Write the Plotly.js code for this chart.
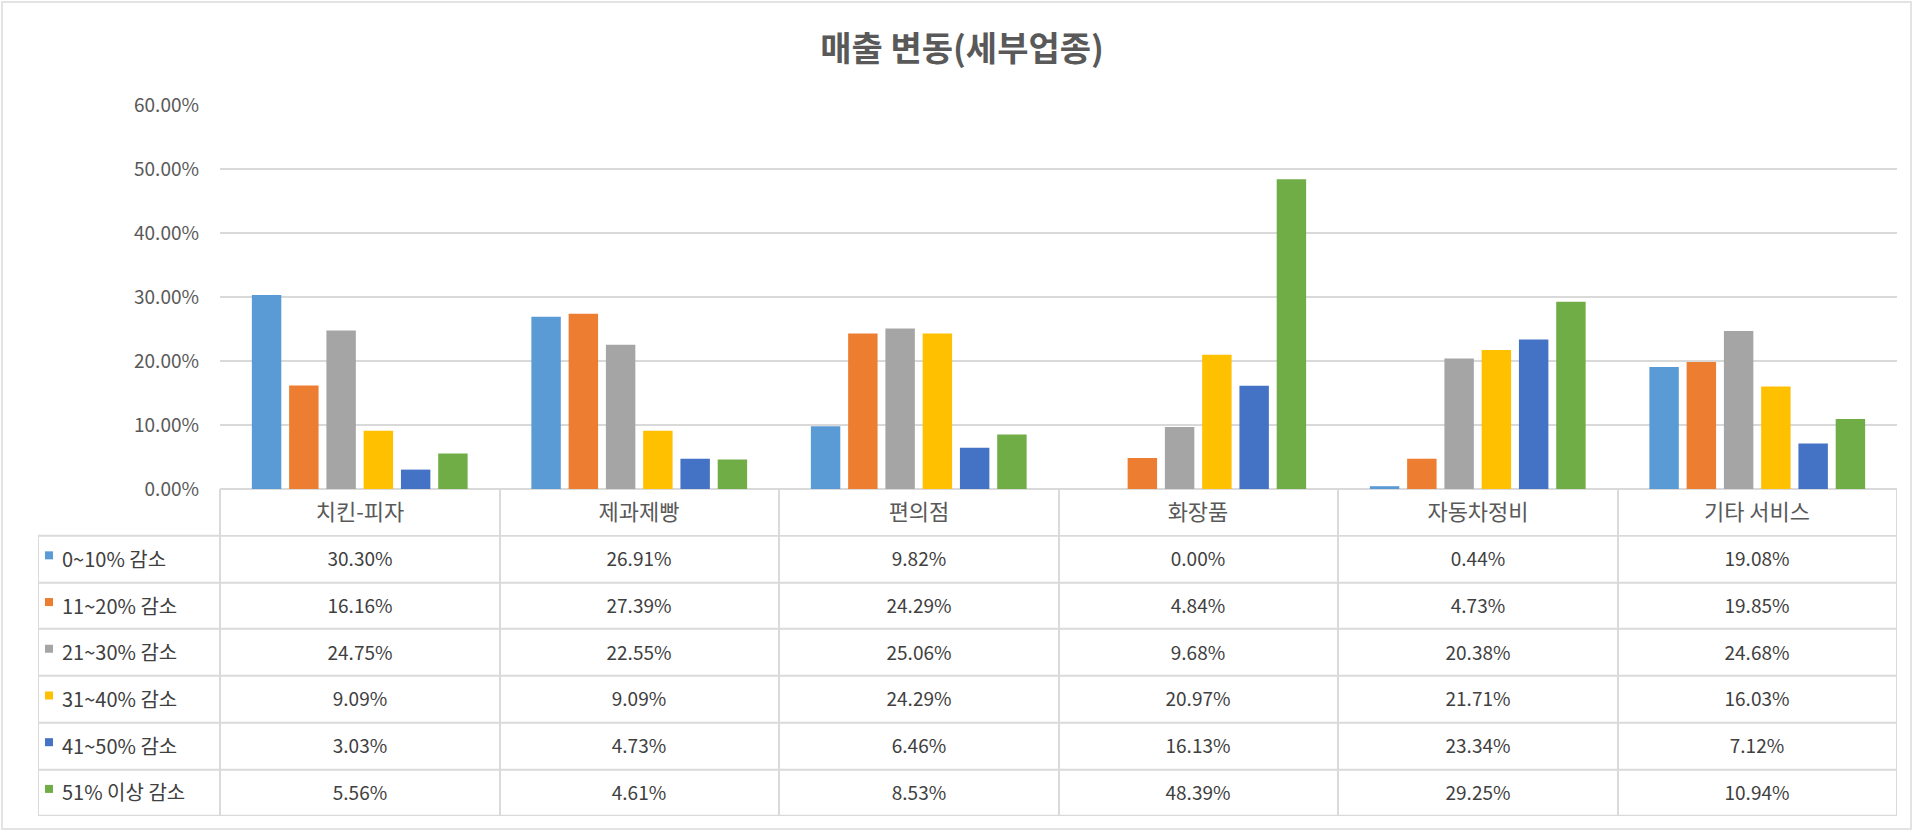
<!DOCTYPE html>
<html>
<head>
<meta charset="utf-8">
<script src="https://cdn.plot.ly/plotly-3.0.1.min.js"></script>
<style>
  html, body { margin: 0; padding: 0; background: #fff; }
  #chart { width: 1920px; height: 838px; }
</style>
</head>
<body>
<div id="chart"></div>
<script>
// 업종 (categories)
const categories = ['치킨-피자', '제과제빵', '편의점', '화장품', '자동차정비', '기타 서비스'];

// 감소 구간 (series)
const seriesNames = ['0~10% 감소', '11~20% 감소', '21~30% 감소', '31~40% 감소', '41~50% 감소', '51% 이상 감소'];
const seriesColors = ['#5B9BD5', '#ED7D31', '#A5A5A5', '#FFC000', '#4472C4', '#70AD47'];

// values in percent, one array per series
const drop0to10 = [30.30, 26.91, 9.82, 0.00, 0.44, 19.08];
const drop11to20 = [16.16, 27.39, 24.29, 4.84, 4.73, 19.85];
const drop21to30 = [24.75, 22.55, 25.06, 9.68, 20.38, 24.68];
const drop31to40 = [9.09, 9.09, 24.29, 20.97, 21.71, 16.03];
const drop41to50 = [3.03, 4.73, 6.46, 16.13, 23.34, 7.12];
const drop51plus = [5.56, 4.61, 8.53, 48.39, 29.25, 10.94];

const allSeries = [drop0to10, drop11to20, drop21to30, drop31to40, drop41to50, drop51plus];

// y 축 눈금
const tickVals = [0, 0.1, 0.2, 0.3, 0.4, 0.5, 0.6];
const tickText = ['0.00%', '10.00%', '20.00%', '30.00%', '40.00%', '50.00%', '60.00%'];

const W = 1920, H = 838;
const fontFam = '"Noto Sans CJK KR", "Noto Sans", sans-serif';
const grey = '#595959';
const lineCol = '#DADADA';

// 배치 (px)
const tblLeft = 38, plotLeft = 220, plotRight = 1897;
const plotTop = 105, plotBottom = 489, tblBottom = 816;
const colW = (plotRight - plotLeft) / categories.length;
const lblCols = (plotLeft - tblLeft) / colW;   // 첫 열 너비 (열 단위)

// 막대
const barTraces = allSeries.map((vals, i) => ({
  type: 'bar',
  x: categories,
  y: vals.map(v => v / 100),
  name: seriesNames[i],
  marker: { color: seriesColors[i] },
  xaxis: 'x',
  yaxis: 'y',
  hovertemplate: '%{x}<br>' + seriesNames[i] + ': %{y:.2%}<extra></extra>'
}));

// 데이터 표: 열/행 경계 (열 단위, 행 단위)
const colEdges = [-lblCols].concat(categories.map((c, i) => i)).concat([categories.length]);
const catEdges = categories.map((c, i) => i).concat([categories.length]);
const rowEdges = seriesNames.map((s, i) => i).concat([seriesNames.length]);
const white = [[0, '#ffffff'], [1, '#ffffff']];

const headerTrace = {
  type: 'heatmap',
  x: catEdges,
  y: [-1, 0],
  z: [categories.map(() => 0)],
  text: [categories],
  texttemplate: '%{text}',
  textfont: { family: fontFam, size: 22, color: grey },
  colorscale: white,
  showscale: false,
  xgap: 2, ygap: 2,
  xaxis: 'x2', yaxis: 'y2',
  hoverinfo: 'skip'
};

const bodyTrace = {
  type: 'heatmap',
  x: colEdges,
  y: rowEdges,
  z: seriesNames.map(() => [0].concat(categories.map(() => 0))),
  text: seriesNames.map((s, r) =>
    [''].concat(allSeries[r].map(v => v.toFixed(2) + '%'))),
  texttemplate: '%{text}',
  textfont: { family: fontFam, size: 19, color: '#404040' },
  colorscale: white,
  showscale: false,
  xgap: 2, ygap: 2,
  xaxis: 'x2', yaxis: 'y2',
  hoverinfo: 'skip'
};

// 범례 표시 (첫 열의 색 사각형 + 이름)
const keyTrace = {
  type: 'scatter',
  mode: 'markers',
  x: seriesNames.map(() => -lblCols + 11 / colW),
  y: seriesNames.map((s, i) => i + 0.42),
  marker: { symbol: 'square', size: 8, color: seriesColors },
  xaxis: 'x2', yaxis: 'y2',
  hoverinfo: 'skip'
};
const keyLabelTrace = {
  type: 'scatter',
  mode: 'text',
  x: seriesNames.map(() => -lblCols + 24 / colW),
  y: seriesNames.map((s, i) => i + 0.56),
  text: seriesNames,
  textposition: 'middle right',
  textfont: { family: fontFam, size: 20, color: '#404040' },
  xaxis: 'x2', yaxis: 'y2',
  hoverinfo: 'skip'
};

const pxX = 1 / colW;
const pxY = (seriesNames.length + 1) / (tblBottom - plotBottom);

const layout = {
  width: W,
  height: H,
  margin: { l: 0, r: 0, t: 0, b: 0 },
  paper_bgcolor: '#ffffff',
  plot_bgcolor: 'rgba(0,0,0,0)',
  font: { family: fontFam, color: grey },
  showlegend: false,
  barmode: 'group',
  bargap: 0.2,
  bargroupgap: 0.21,
  title: {
    text: '매출 변동(세부업종)',
    font: { size: 34, color: grey, family: fontFam, weight: 'bold' },
    x: 962 / W,
    xanchor: 'center',
    y: 1 - 49 / H,
    yanchor: 'middle'
  },
  xaxis: {
    domain: [plotLeft / W, plotRight / W],
    showticklabels: false,
    ticks: '',
    showgrid: false,
    showline: false,
    zeroline: false
  },
  yaxis: {
    domain: [(H - plotBottom) / H, (H - plotTop) / H],
    range: [0, 0.6],
    tickvals: tickVals,
    ticktext: tickText,
    tickfont: { size: 19, color: grey },
    ticklabelstandoff: 20,
    showgrid: true,
    gridcolor: '#D9D9D9',
    gridwidth: 2,
    zeroline: true,
    zerolinecolor: '#D9D9D9',
    zerolinewidth: 2,
    showline: false,
    fixedrange: true
  },
  xaxis2: {
    domain: [tblLeft / W, plotRight / W],
    range: [-lblCols, categories.length],
    anchor: 'y2',
    visible: false
  },
  yaxis2: {
    domain: [(H - tblBottom) / H, (H - plotBottom) / H],
    range: [seriesNames.length, -1],
    anchor: 'x2',
    visible: false
  },
  shapes: [
    // 표 격자선 (셀 사이 틈으로 보임)
    { type: 'rect', xref: 'x2', yref: 'y2', layer: 'below',
      x0: 0 - pxX, x1: categories.length + pxX, y0: -1 - pxY, y1: 0,
      fillcolor: lineCol, line: { width: 0 } },
    { type: 'rect', xref: 'x2', yref: 'y2', layer: 'below',
      x0: -lblCols - pxX, x1: categories.length + pxX, y0: -pxY, y1: seriesNames.length + pxY,
      fillcolor: lineCol, line: { width: 0 } },
    // 차트 영역 테두리
    { type: 'rect', xref: 'paper', yref: 'paper',
      x0: 2 / W, x1: 1911 / W, y0: 1 - 829 / H, y1: 1 - 2 / H,
      line: { color: '#E3E3E3', width: 2 } }
  ]
};

Plotly.newPlot('chart', barTraces.concat([headerTrace, bodyTrace, keyTrace, keyLabelTrace]), layout,
  { displayModeBar: false, staticPlot: true });
</script>
</body>
</html>
